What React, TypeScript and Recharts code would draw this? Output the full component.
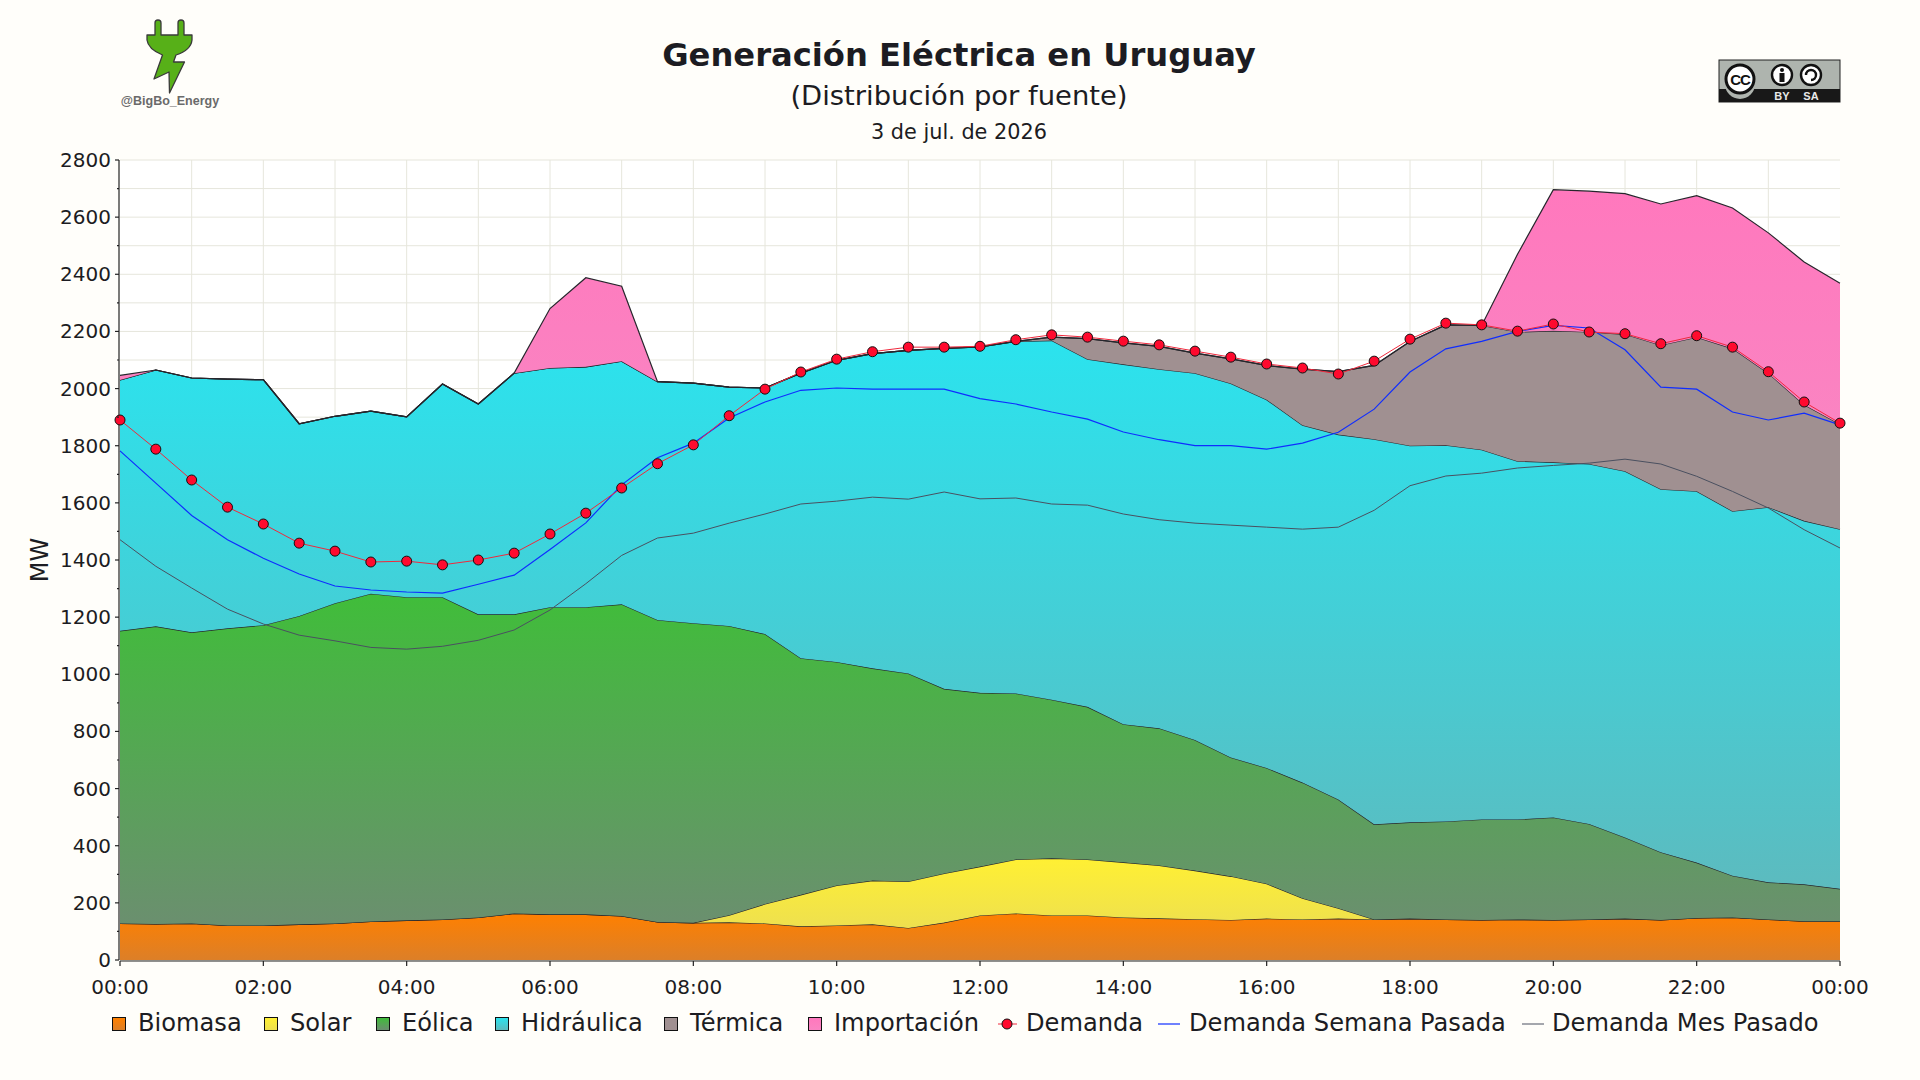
import React from "react";
import { ComposedChart, Area, Line, XAxis, YAxis, CartesianGrid, Legend } from "recharts";

const horas = [0,0.5,1,1.5,2,2.5,3,3.5,4,4.5,5,5.5,6,6.5,7,7.5,8,8.5,9,9.5,10,10.5,11,11.5,12,12.5,13,13.5,14,14.5,15,15.5,16,16.5,17,17.5,18,18.5,19,19.5,20,20.5,21,21.5,22,22.5,23,23.5,24];

const biomasa = [128,126,128,121,121,125,128,135,139,142,149,163,160,160,154,133,130,132,128,118,121,125,112,131,156,163,156,156,149,146,143,140,145,142,145,142,145,142,140,142,140,142,145,140,147,149,142,136,136];
const solar = [0,0,0,0,0,0,0,0,0,0,0,0,0,0,0,0,0,25,68,110,140,153,163,172,171,189,200,196,193,185,170,153,122,74,36,0,0,0,0,0,0,0,0,0,0,0,0,0,0];
const eolica = [1024,1042,1019,1040,1051,1079,1121,1147,1131,1128,1061,1047,1075,1075,1091,1057,1049,1012,945,828,782,743,728,646,608,581,555,534,483,480,457,416,405,405,381,333,337,343,352,350,359,334,284,237,194,146,130,129,113];
const hidraulica = [878,897,890,872,859,673,654,639,631,746,736,844,837,841,851,834,840,836,861,998,1056,1101,1131,1192,1211,1232,1257,1217,1260,1257,1284,1309,1289,1251,1277,1348,1318,1317,1294,1254,1243,1260,1282,1271,1300,1276,1313,1272,1259];
const termica = [0,0,0,0,0,0,0,0,0,0,0,0,0,0,0,0,0,0,0,0,0,0,0,0,0,0,12,72,75,80,70,86,120,196,220,258,365,421,435,452,460,462,479,504,539,569,469,406,367];
const importacion = [16,0,0,0,0,0,0,0,0,0,0,0,208,312,262,0,0,0,0,0,0,0,0,0,0,0,0,0,0,0,0,0,0,0,0,0,0,0,0,272,494,493,492,494,495,492,491,500,494];
const demanda = [1890,1788,1680,1585,1526,1459,1431,1393,1396,1383,1400,1424,1491,1564,1652,1737,1803,1905,1998,2058,2103,2129,2145,2145,2148,2171,2188,2180,2166,2153,2131,2110,2086,2072,2051,2096,2173,2229,2223,2201,2226,2198,2192,2157,2185,2145,2059,1953,1879];
const semanaPasada = [1782,1669,1556,1471,1406,1351,1309,1295,1288,1284,1315,1347,1437,1530,1663,1758,1809,1897,1953,1994,2002,1998,1998,1998,1965,1946,1918,1893,1848,1821,1800,1800,1788,1809,1847,1928,2058,2139,2165,2200,2221,2212,2136,2005,1998,1918,1890,1914,1873];
const mesPasado = [1471,1378,1302,1228,1176,1137,1117,1094,1088,1098,1119,1155,1225,1317,1416,1477,1494,1529,1561,1596,1606,1620,1613,1638,1614,1617,1596,1592,1561,1541,1529,1522,1515,1508,1515,1574,1660,1694,1704,1722,1731,1739,1753,1736,1693,1640,1582,1506,1442];

const xTicks = [0,2,4,6,8,10,12,14,16,18,20,22,24];
const xLabels = ["00:00","02:00","04:00","06:00","08:00","10:00","12:00","14:00","16:00","18:00","20:00","22:00","00:00"];
const yTicks = [0,100,200,300,400,500,600,700,800,900,1000,1100,1200,1300,1400,1500,1600,1700,1800,1900,2000,2100,2200,2300,2400,2500,2600,2700,2800];
const gridHours = [1,2,3,4,5,6,7,8,9,10,11,12,13,14,15,16,17,18,19,20,21,22,23];

const filas = horas.map((h, i) => ({
  h,
  Biomasa: biomasa[i],
  Solar: solar[i],
  Eolica: eolica[i],
  Hidraulica: hidraulica[i],
  Termica: termica[i],
  Importacion: importacion[i],
  Demanda: demanda[i],
  Semana: semanaPasada[i],
  Mes: mesPasado[i],
}));

const FONT = "'DejaVu Sans', sans-serif";
const INK = "#1c1c22";

const areas = [
  { key: "Biomasa", name: "Biomasa", top: "#ff8000", bottom: "#dc7f28", text: 138 },
  { key: "Solar", name: "Solar", top: "#fff033", bottom: "#eee04f", text: 290 },
  { key: "Eolica", name: "Eólica", top: "#40bd3a", bottom: "#6b8f6f", text: 402 },
  { key: "Hidraulica", name: "Hidráulica", top: "#2be3ee", bottom: "#5cbbbf", text: 521 },
  { key: "Termica", name: "Térmica", top: "#a09091", bottom: "#a09091", text: 690 },
  { key: "Importacion", name: "Importación", top: "#ff78bd", bottom: "#fa84c2", text: 834 },
];

const XTick = (p: any) => {
  const i = xTicks.indexOf(p.payload.value);
  return (
    <g>
      <line x1={p.x} x2={p.x} y1={961} y2={966} stroke="#222" strokeWidth={1.2} />
      <text x={p.x} y={994} textAnchor="middle" fontFamily={FONT} fontSize={20} fill={INK}>{xLabels[i]}</text>
    </g>
  );
};

const YTick = (p: any) => {
  const v = p.payload.value;
  const major = v % 200 === 0;
  return (
    <g>
      <line x1={119} x2={major ? 115 : 117} y1={p.y} y2={p.y} stroke="#222" strokeWidth={1.2} />
      {major ? (
        <text x={111} y={p.y + 7} textAnchor="end" fontFamily={FONT} fontSize={20} fill={INK}>{v}</text>
      ) : null}
    </g>
  );
};

const DotDemanda = (p: any) => (
  <circle key={p.index} cx={p.cx} cy={p.cy} r={5} fill="#ff0a2e" stroke="#111" strokeWidth={1} />
);

const MwLabel = () => (
  <text transform="translate(48 560) rotate(-90)" textAnchor="middle" fontFamily={FONT} fontSize={24} fill={INK}>MW</text>
);

const LegendRow = () => {
  const txt = (s: string, x: number) => (
    <span style={{ position: "absolute", left: x, top: 0, lineHeight: "30px", whiteSpace: "nowrap" }}>{s}</span>
  );
  return (
    <div style={{ position: "relative", width: 1920, height: 30, fontFamily: FONT, fontSize: 24.15, color: INK }}>
      {areas.map((a) => (
        <React.Fragment key={a.key}>
          <div
            style={{
              position: "absolute",
              left: a.text - 26,
              top: 9,
              width: 12,
              height: 12,
              border: "1px solid #111",
              background: `linear-gradient(${a.top}, ${a.bottom})`,
            }}
          />
          {txt(a.name, a.text)}
        </React.Fragment>
      ))}
      <svg style={{ position: "absolute", left: 0, top: 0 }} width={1920} height={30}>
        <line x1={998} x2={1017} y1={16} y2={16} stroke="#f0283c" strokeWidth={1} />
        <circle cx={1007} cy={16} r={5} fill="#ff0a2e" stroke="#111" strokeWidth={1} />
        <line x1={1158} x2={1180} y1={16} y2={16} stroke="#0f2dff" strokeWidth={1.2} />
        <line x1={1522} x2={1544} y1={16} y2={16} stroke="#4a5060" strokeWidth={1} />
      </svg>
      {txt("Demanda", 1026)}
      {txt("Demanda Semana Pasada", 1189)}
      {txt("Demanda Mes Pasado", 1552)}
    </div>
  );
};

const Decor = () => (
  <svg style={{ position: "absolute", left: 0, top: 0, pointerEvents: "none" }} width={1920} height={150}>
    <text x={959} y={66} textAnchor="middle" fontFamily={FONT} fontWeight="bold" fontSize={32.2} fill={INK}>Generación Eléctrica en Uruguay</text>
    <text x={959} y={105} textAnchor="middle" fontFamily={FONT} fontSize={27.4} fill={INK}>(Distribución por fuente)</text>
    <text x={959} y={139} textAnchor="middle" fontFamily={FONT} fontSize={20.8} fill={INK}>3 de jul. de 2026</text>

    <path
      d="M155 35 V23 Q155 20 158 20 Q161 20 161 23 V35 H178 V23 Q178 20 181 20 Q184 20 184 23 V35 H192 V40 Q191 50 176 55 L173.5 62 H184.5 L169.5 93 L169 72 L154 79 L162.5 55 Q148 49 147 40 V35 Z"
      fill="#57b018"
      stroke="#3a3a3a"
      strokeWidth={1.3}
      strokeLinejoin="round"
    />
    <text x={170} y={105} textAnchor="middle" fontFamily="'Liberation Sans', sans-serif" fontWeight="bold" fontSize={12.5} fill="#6a6a6a">@BigBo_Energy</text>

    <rect x={1719} y={60} width={121} height={42} fill="#aeb4ae" stroke="#222" strokeWidth={1} />
    <rect x={1719} y={89} width={121} height={13} fill="#181818" />
    <circle cx={1740} cy={84} r={15} fill="#aeb4ae" />
    <circle cx={1740} cy={79} r={14} fill="#fff" stroke="#111" strokeWidth={3} />
    <text x={1740} y={85} textAnchor="middle" fontFamily="'Liberation Sans', sans-serif" fontWeight="bold" fontSize={15} letterSpacing={-1} fill="#111">CC</text>
    <circle cx={1782} cy={75} r={10} fill="#fff" stroke="#111" strokeWidth={2.4} />
    <circle cx={1782} cy={70} r={2} fill="#111" />
    <rect x={1779.5} y={73} width={5} height={9} fill="#111" />
    <circle cx={1811} cy={75} r={10} fill="#fff" stroke="#111" strokeWidth={2.4} />
    <path d="M1806 75 A5 5 0 1 1 1811 80" fill="none" stroke="#111" strokeWidth={2.4} />
    <text x={1782} y={100} textAnchor="middle" fontFamily="'Liberation Sans', sans-serif" fontWeight="bold" fontSize={11} fill="#e8e8e8">BY</text>
    <text x={1811} y={100} textAnchor="middle" fontFamily="'Liberation Sans', sans-serif" fontWeight="bold" fontSize={11} fill="#e8e8e8">SA</text>
  </svg>
);

export default function App() {
  return (
    <div style={{ position: "absolute", left: 0, top: 0, width: 1920, height: 1080, background: "#fffefa", overflow: "hidden" }}>
      <Decor />
      <ComposedChart
        width={1920}
        height={1080}
        data={filas}
        margin={{ top: 160, right: 80, bottom: 0, left: 0 }}
        style={{ position: "absolute", left: 0, top: 0 }}
      >
        <defs>
          {areas.map((a) => (
            <linearGradient key={a.key} id={`g-${a.key}`} x1="0" y1="0" x2="0" y2="1">
              <stop offset="0" stopColor={a.top} />
              <stop offset="1" stopColor={a.bottom} />
            </linearGradient>
          ))}
        </defs>
        <CartesianGrid
          fill="#ffffff"
          stroke="#e6e6dc"
          strokeWidth={1}
          horizontalValues={yTicks}
          verticalValues={gridHours}
        />
        <XAxis
          dataKey="h"
          type="number"
          domain={[0, 24]}
          ticks={xTicks}
          height={90}
          interval={0}
          tick={XTick}
          tickLine={false}
          axisLine={{ stroke: "#222", strokeWidth: 1.2, transform: "translate(0 1)" }}
        />
        <YAxis
          type="number"
          domain={[0, 2800]}
          ticks={yTicks}
          width={120}
          interval={0}
          tick={YTick}
          tickLine={false}
          axisLine={{ stroke: "#222", strokeWidth: 1.2, transform: "translate(-1 0)" }}
          label={{ content: () => <MwLabel /> }}
        />
        {areas.map((a) => (
          <Area
            key={a.key}
            dataKey={a.key}
            name={a.name}
            stackId="fuentes"
            type="linear"
            fill={`url(#g-${a.key})`}
            fillOpacity={1}
            stroke="#26262c"
            strokeWidth={1.2}
            dot={false}
            activeDot={false}
            isAnimationActive={false}
          />
        ))}
        <Line dataKey="Mes" name="Demanda Mes Pasado" type="linear" stroke="#4a5060" strokeWidth={1} dot={false} activeDot={false} isAnimationActive={false} />
        <Line dataKey="Semana" name="Demanda Semana Pasada" type="linear" stroke="#0f2dff" strokeWidth={1.2} dot={false} activeDot={false} isAnimationActive={false} />
        <Line dataKey="Demanda" name="Demanda" type="linear" stroke="#f0283c" strokeWidth={1} dot={DotDemanda} activeDot={false} isAnimationActive={false} />
        <Legend
          content={() => <LegendRow />}
          wrapperStyle={{ position: "absolute", left: 0, top: 1008, width: 1920, height: 30 }}
        />
      </ComposedChart>
    </div>
  );
}
